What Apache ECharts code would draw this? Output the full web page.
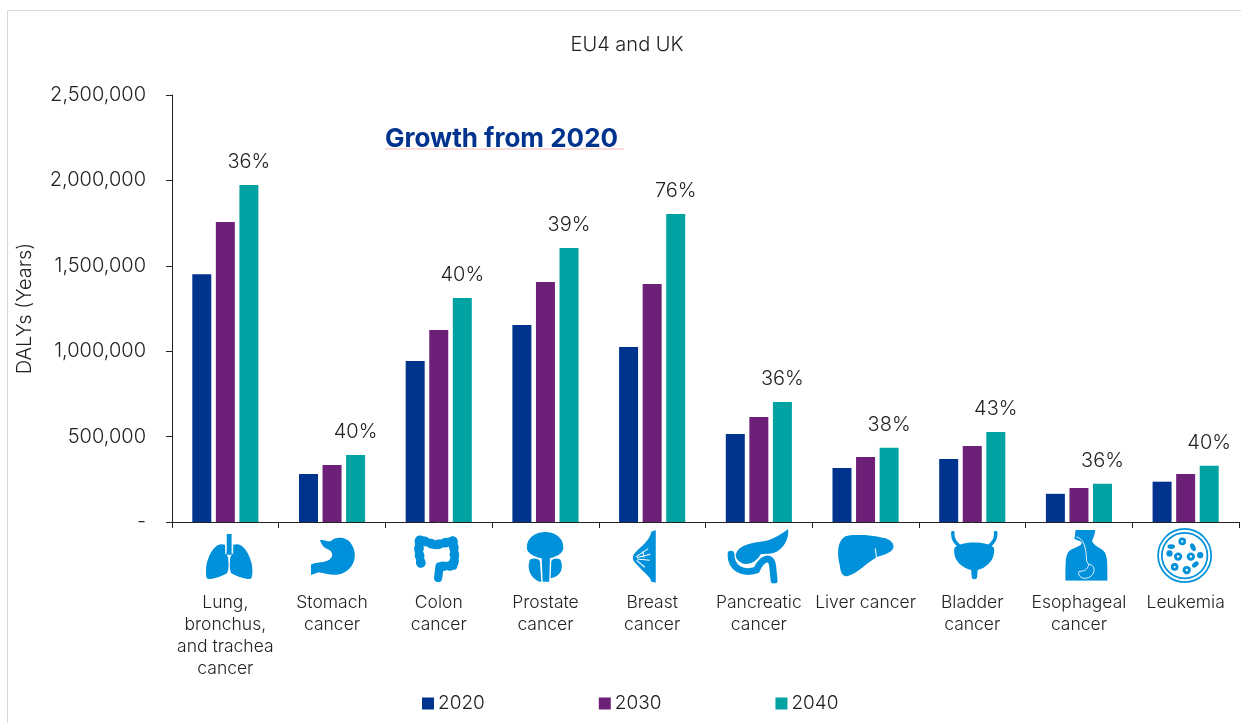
<!DOCTYPE html>
<html>
<head>
<meta charset="utf-8">
<style>html,body{margin:0;padding:0;background:#fff}#chart{width:1241px;height:723px}</style>
<script src="https://cdn.jsdelivr.net/npm/echarts@6/dist/echarts.min.js"></script>
</head>
<body>
<div id="chart"></div>
<script>
const categories = ['Lung,\nbronchus,\nand trachea\ncancer','Stomach\ncancer','Colon\ncancer','Prostate\ncancer','Breast\ncancer','Pancreatic\ncancer','Liver cancer','Bladder\ncancer','Esophageal\ncancer','Leukemia'];
const values2020 = [1450000,281000,943000,1153000,1025000,515000,316000,369000,165000,236000];
const values2030 = [1756000,334000,1124000,1405000,1393000,615000,381000,445000,199000,281000];
const values2040 = [1973000,392000,1311000,1604000,1803000,703000,435000,527000,224000,330000];
const growthLabels = ['36%','40%','40%','39%','76%','36%','38%','43%','36%','40%'];

const FONT = 'Inter, Roboto, "Liberation Sans", sans-serif';
const INK = '#222222';
const ICON = '#0091da';

// Organ pictograms: viewBox in source units, drawn at 1/2.9 scale under each category.
const icons = [
  { dx: 4, top: 534, box: [105,40,137,132], body:
    `<path fill="${ICON}" d="M162 72C140 62 118 85 108 125C104 145 105 165 110 170C125 172 150 162 165 155C172 150 172 130 170 108L166 100Z"/>
     <path fill="${ICON}" d="M184 72C206 62 228 85 238 125C242 145 241 165 236 170C221 172 196 162 181 155C174 150 174 130 176 108L180 100Z"/>
     <path stroke="#fff" stroke-width="3" fill="none" d="M163 68V98M183 68V98"/>
     <path fill="${ICON}" d="M166 40H180V100H166Z"/>` },
  { dx: 1, top: 537, box: [407,50,130,110], body:
    `<path fill="${ICON}" d="M434 60C445 55 455 65 465 62C480 48 510 48 525 70C545 100 535 140 500 155C475 165 450 155 430 152L408 160L407 130C420 122 450 125 462 115C475 105 470 90 455 85C445 80 438 72 434 60Z"/>` },
  { dx: -2, top: 534, box: [708,42,132,140], body:
    `<path fill="none" stroke="${ICON}" stroke-width="24" stroke-linecap="round" stroke-linejoin="round" d="M728 126L722 92L724 58L770 74L822 62L826 110L822 134L782 136L778 170"/>
     <path fill="none" stroke="${ICON}" stroke-width="28" stroke-linecap="round" stroke-dasharray="1 20" d="M728 126L722 92L724 58L770 74L822 62L826 110L822 134L782 136"/>` },
  { dx: 0, top: 532, box: [1038,36,110,145], body:
    `<path fill="${ICON}" d="M1039 80C1039 52 1065 36 1092 36C1120 36 1145 52 1145 80C1145 98 1125 108 1106 112L1104 180H1085L1082 112C1060 108 1039 98 1039 80Z"/>
     <path fill="${ICON}" d="M1048 116C1060 110 1072 112 1077 120L1081 180H1076C1055 174 1036 148 1048 116Z"/>
     <path fill="${ICON}" d="M1136 116C1125 110 1114 112 1110 120L1108 170C1130 168 1150 146 1136 116Z"/>` },
  { dx: -8, top: 530, box: [1342,30,68,153], body:
    `<path fill="${ICON}" d="M1397 35L1410 30V183L1397 180C1395 165 1370 150 1350 125C1340 115 1342 105 1350 95C1370 75 1392 60 1397 35Z"/>
     <path stroke="#fff" stroke-width="3" fill="none" d="M1352 108L1388 84M1356 110L1394 100M1356 114L1392 118M1354 118L1378 138M1372 92L1376 110"/>` },
  { dx: -1, top: 529, box: [80,27,178,158], body:
    `<path fill="${ICON}" d="M105 100C115 72 150 68 190 62C215 56 240 40 257 27C260 55 245 80 225 92C205 102 190 97 177 100C165 122 145 132 125 127C110 120 103 110 105 100Z"/>
     <path fill="none" stroke="${ICON}" stroke-width="20" stroke-linecap="round" d="M91 100C91 140 125 160 165 146C180 112 208 100 212 135L216 176"/>` },
  { dx: 0, top: 534.5, box: [396,42,164,123], body:
    `<path fill="${ICON}" d="M420 47C450 38 500 45 520 50C545 52 562 65 559 80C555 95 530 102 510 108C480 125 455 155 425 163C410 165 405 150 403 130C395 100 395 60 420 47Z"/>
     <path stroke="#fff" stroke-width="3" fill="none" d="M506 82L510 110"/>` },
  { dx: 2, top: 531, box: [725,32,140,142], body:
    `<path fill="${ICON}" d="M738 80C760 60 830 60 852 80C858 115 830 140 805 145L803 168Q795 176 788 168L786 145C760 140 730 115 738 80Z"/>
     <path fill="none" stroke="${ICON}" stroke-width="10" stroke-linecap="round" d="M733 36C731 55 740 65 752 76M857 36C859 55 850 65 838 76"/>` },
  { dx: 7.5, top: 530, box: [1060,30,123,147], body:
    `<path fill="${ICON}" d="M1090 30H1147C1146 45 1140 55 1138 62C1140 75 1165 82 1175 95C1182 110 1183 125 1183 177H1060C1060 130 1060 110 1068 95C1078 82 1105 80 1108 68C1108 62 1095 62 1086 55C1090 45 1088 38 1090 30Z"/>
     <path fill="none" stroke="#fff" stroke-width="2.5" d="M1092 50C1115 55 1120 80 1122 120L1128 130C1150 130 1150 165 1120 170C1105 172 1095 160 1100 150C1115 150 1125 145 1128 130"/>` },
  { dx: -1, top: 527.6, box: [1326,23,162,162], body:
    `<circle cx="1407" cy="104" r="77" fill="none" stroke="${ICON}" stroke-width="5"/>
     <circle cx="1407" cy="104" r="66" fill="none" stroke="${ICON}" stroke-width="5"/>
     <g fill="${ICON}">
       <circle cx="1400" cy="63" r="11"/><circle cx="1388" cy="107" r="12"/><circle cx="1425" cy="107" r="12"/>
       <circle cx="1378" cy="137" r="11"/><circle cx="1413" cy="146" r="12"/><circle cx="1363" cy="98" r="9"/><circle cx="1452" cy="103" r="9"/>
       <ellipse cx="1368" cy="78" rx="11" ry="7"/><ellipse cx="1431" cy="80" rx="7" ry="12" transform="rotate(-25 1431 80)"/>
       <ellipse cx="1438" cy="130" rx="11" ry="7" transform="rotate(-40 1438 130)"/>
     </g>
     <g fill="#fff">
       <circle cx="1400" cy="63" r="3"/><circle cx="1388" cy="107" r="3.5"/><circle cx="1425" cy="107" r="3.5"/>
       <circle cx="1378" cy="137" r="3"/><circle cx="1413" cy="146" r="3.5"/>
     </g>` }
];

const chart = echarts.init(document.getElementById('chart'), null, { renderer: 'canvas' });

function bar(name, data, color, extra) {
  return Object.assign({
    name, type: 'bar', data, barWidth: 19, barGap: '24%',
    itemStyle: { color }
  }, extra || {});
}

chart.setOption({
  animation: false,
  backgroundColor: '#fff',
  textStyle: { fontFamily: FONT },
  grid: { left: 172, right: 2, top: 95, height: 427 },
  title: {
    text: 'EU4 and UK', left: 622, top: 30, textAlign: 'center',
    textStyle: { fontFamily: FONT, fontSize: 20, fontWeight: 300, color: INK }
  },
  legend: {
    left: 417, top: 689, itemWidth: 12, itemHeight: 12, itemGap: 114, icon: 'rect',
    textStyle: { fontFamily: FONT, fontSize: 19, fontWeight: 300, color: INK, padding: [0, 0, 0, -1] }
  },
  xAxis: {
    type: 'category', data: categories,
    axisLine: { lineStyle: { color: '#222', width: 1 } },
    axisTick: { show: true, alignWithLabel: false, length: 6, lineStyle: { color: '#222' } },
    axisLabel: {
      interval: 0, margin: 70, fontSize: 17.5, fontWeight: 300, lineHeight: 22,
      color: INK, fontFamily: FONT, verticalAlign: 'top'
    }
  },
  yAxis: {
    type: 'value', min: 0, max: 2500000, interval: 500000,
    name: 'DALYs (Years)', nameLocation: 'middle', nameGap: 137,
    nameTextStyle: { fontFamily: FONT, fontSize: 20, fontWeight: 300, color: INK },
    splitLine: { show: false },
    axisLine: { show: true, lineStyle: { color: '#222', width: 1 } },
    axisTick: { show: true, length: 6, lineStyle: { color: '#222' } },
    axisLabel: {
      margin: 26, fontSize: 20, fontWeight: 300, color: INK, fontFamily: FONT,
      formatter: v => v === 0 ? '-' : v.toLocaleString('en-US')
    }
  },
  series: [
    bar('2020', values2020, '#00338d'),
    bar('2030', values2030, '#6d2077'),
    bar('2040', values2040, '#00a3a1', {
      label: {
        show: true, position: 'top', distance: 13,
        fontFamily: FONT, fontSize: 20, fontWeight: 300, color: INK,
        formatter: p => growthLabels[p.dataIndex]
      }
    })
  ]
});

// Frame, callout and organ pictograms placed relative to the category axis.
const iconElements = icons.map((ic, i) => {
  const [bx, by, bw, bh] = ic.box;
  const w = bw / 2.9, h = bh / 2.9;
  const svg = `<svg xmlns="http://www.w3.org/2000/svg" width="${w * 2}" height="${h * 2}" viewBox="${bx} ${by} ${bw} ${bh}">${ic.body}</svg>`;
  const cx = chart.convertToPixel({ xAxisIndex: 0 }, i);
  return {
    type: 'image', x: cx + ic.dx - w / 2, y: ic.top,
    style: { image: 'data:image/svg+xml;charset=utf-8,' + encodeURIComponent(svg), width: w, height: h }
  };
});

chart.setOption({
  graphic: [
    { type: 'rect', z: -1, silent: true, shape: { x: 7.5, y: 10.5, width: 1300, height: 800 },
      style: { fill: '#fff', stroke: '#d9d9d9', lineWidth: 1 } },
    { type: 'text', x: 385, y: 126, style: { text: 'Growth from 2020', fontFamily: FONT, fontSize: 26, fontWeight: 700, fill: '#00338d' } },
    { type: 'line', shape: { x1: 385, y1: 149, x2: 624, y2: 149 }, style: { stroke: '#f3b9b9', lineWidth: 1 } },
    ...iconElements
  ]
});
</script>
</body>
</html>
